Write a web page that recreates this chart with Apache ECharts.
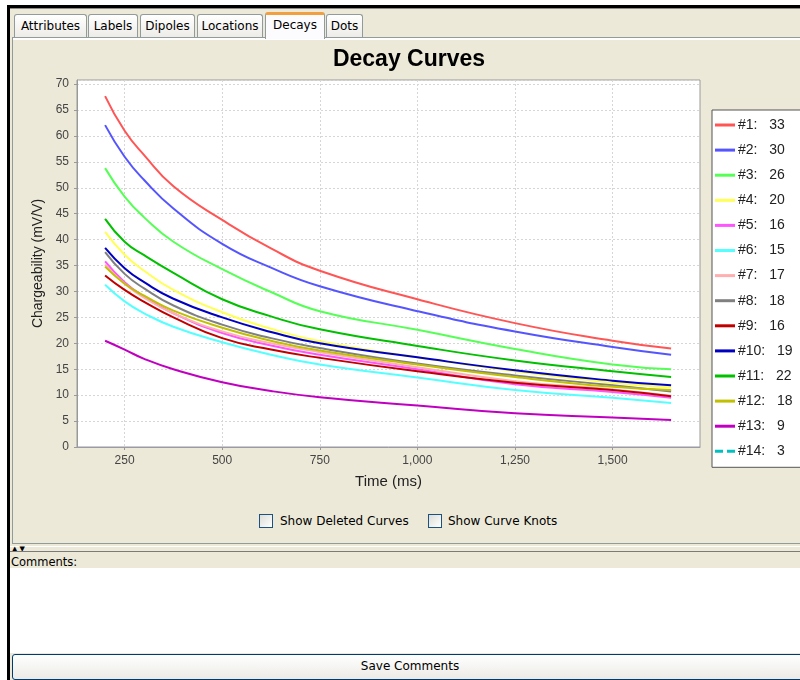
<!DOCTYPE html>
<html>
<head>
<meta charset="utf-8">
<script src="https://cdn.jsdelivr.net/npm/echarts@6/dist/echarts.min.js"></script>
<style>
html,body{margin:0;padding:0;width:800px;height:680px;overflow:hidden;background:#fff;font-family:"DejaVu Sans",sans-serif;}
.abs{position:absolute;box-sizing:border-box;}
#frame{left:7px;top:5px;width:800px;height:680px;background:#ECE9D8;border-left:3px solid #000;border-top:3px solid #000;}
.tab{top:14px;height:24px;border:1px solid #919B9C;border-bottom:none;border-radius:3px 3px 0 0;background:linear-gradient(#FFFFFF,#ECEBE6);font-size:12px;color:#000;text-align:center;line-height:22px;}
.tab.sel{top:12px;height:27px;background:#FCFCFE;border-top:3px solid #F0A040;z-index:3;line-height:21px;}
#panel{left:12px;top:37px;width:800px;height:507px;border:1px solid #919B9C;background:#ECE9D8;box-shadow:inset 0 2px 0 #fff;z-index:2;}
.cb{width:14px;height:14px;border:1px solid #1C5180;background:linear-gradient(135deg,#DCDCD7,#FFFFFF);z-index:4;}
.lbl{font-size:12px;color:#000;z-index:4;line-height:14px;white-space:nowrap;}
#chart{left:0;top:0;width:800px;height:680px;z-index:5;}
</style>
</head>
<body>
<div id="frame" class="abs"></div>
<div class="abs" style="left:10px;top:8px;width:790px;height:1px;background:#8a8a8a;"></div>
<div class="abs tab" style="left:14px;width:73px;">Attributes</div>
<div class="abs tab" style="left:88px;width:50px;">Labels</div>
<div class="abs tab" style="left:140px;width:55px;">Dipoles</div>
<div class="abs tab" style="left:197px;width:66px;">Locations</div>
<div class="abs tab sel" style="left:265px;width:60px;">Decays</div>
<div class="abs tab" style="left:326px;width:37px;">Dots</div>
<div id="panel" class="abs"></div>
<div class="abs cb" style="left:259px;top:514px;"></div>
<div class="abs lbl" style="left:280px;top:514px;">Show Deleted Curves</div>
<div class="abs cb" style="left:428px;top:514px;"></div>
<div class="abs lbl" style="left:448px;top:514px;">Show Curve Knots</div>
<div class="abs" style="left:10px;top:546px;width:790px;height:1px;background:#fff;"></div>
<div class="abs" style="left:12px;top:545px;font-size:7px;line-height:8px;color:#000;">&#9650; &#9660;</div>
<div class="abs" style="left:10px;top:551px;width:790px;height:1px;background:#7a7a7a;"></div>
<div class="abs" style="left:11px;top:555px;font-size:11.5px;line-height:14px;color:#000;">Comments:</div>
<div class="abs" style="left:10px;top:568px;width:790px;height:85px;background:#fff;"></div>
<div class="abs" style="left:12px;top:654px;width:796px;height:26px;border:1px solid #003C74;border-radius:3px;background:linear-gradient(#FFFFFF,#ECEBE6);font-size:12px;text-align:center;line-height:23px;color:#000;">Save Comments</div>
<div id="chart" class="abs"></div>
<script>
// ---- data ----
const TIMES = [200, 250, 300, 375, 500, 625, 750, 1000, 1250, 1500, 1650];
const CURVE_1  = [67.7, 61.0, 56.3, 50.3, 43.8, 38.3, 34.0, 28.5, 23.9, 20.5, 19.0];
const CURVE_2  = [62.1, 56.0, 51.5, 46.0, 39.2, 34.6, 31.0, 26.2, 22.3, 19.3, 17.8];
const CURVE_3  = [53.8, 48.3, 44.3, 39.6, 34.3, 29.9, 26.2, 22.6, 18.9, 15.9, 15.0];
const CURVE_4  = [41.5, 37.1, 34.0, 30.3, 26.0, 22.8, 20.4, 17.3, 14.6, 12.4, 11.5];
const CURVE_5  = [35.8, 31.8, 29.0, 25.8, 22.0, 19.6, 17.8, 15.0, 12.1, 10.6, 9.5];
const CURVE_6  = [31.3, 28.1, 25.8, 23.2, 20.2, 17.8, 15.9, 13.4, 11.0, 9.5, 8.5];
const CURVE_7  = [35.2, 31.5, 28.8, 25.8, 22.3, 20.0, 18.3, 15.4, 12.7, 11.1, 9.9];
const CURVE_8  = [37.6, 33.4, 30.6, 27.3, 23.6, 21.0, 19.1, 16.1, 13.8, 11.9, 10.7];
const CURVE_9  = [33.1, 30.3, 28.0, 25.0, 21.0, 18.8, 17.2, 14.6, 12.4, 11.0, 9.8];
const CURVE_10 = [38.4, 34.5, 31.8, 28.6, 25.0, 22.2, 20.0, 17.3, 14.8, 12.8, 11.9];
const CURVE_11 = [44.0, 39.6, 37.0, 33.6, 28.5, 25.2, 22.7, 19.5, 16.7, 14.6, 13.5];
const CURVE_12 = [34.8, 31.5, 29.2, 26.3, 23.0, 20.5, 18.6, 15.9, 13.5, 11.6, 11.0];
const CURVE_13 = [20.5, 18.8, 17.0, 15.0, 12.5, 10.8, 9.6, 8.0, 6.5, 5.7, 5.2];
const CURVE_14 = [];
const CURVES = [CURVE_1, CURVE_2, CURVE_3, CURVE_4, CURVE_5, CURVE_6, CURVE_7,
                CURVE_8, CURVE_9, CURVE_10, CURVE_11, CURVE_12, CURVE_13, CURVE_14];
const CURVE_NAMES = ['#1','#2','#3','#4','#5','#6','#7','#8','#9','#10','#11','#12','#13','#14'];
const LEGEND_VALUES = [33, 30, 26, 20, 16, 15, 17, 18, 16, 19, 22, 18, 9, 3];
const X_TICKS = [250, 500, 750, 1000, 1250, 1500];

// ---- styles ----
const COLORS = ['#FF5555','#5555FF','#55FF55','#FFFF55','#FF55FF','#55FFFF','#FFAFAF',
                '#808080','#C00000','#0000C0','#00C000','#C0C000','#C000C0','#00C0C0'];
const FONT = '"Liberation Sans", Arial, sans-serif';

const chart = echarts.init(document.getElementById('chart'), null, {renderer: 'canvas'});

const series = CURVES.map((vals, k) => ({
  name: CURVE_NAMES[k],
  type: 'line',
  color: COLORS[k],
  data: vals.map((v, i) => [TIMES[i], v]),
  showSymbol: false,
  smooth: 0.5,
  lineStyle: {width: 2, color: COLORS[k], type: k === 13 ? 'dashed' : 'solid'},
  itemStyle: {color: COLORS[k]},
  emphasis: {disabled: true},
  animation: false
}));

const legendData = CURVE_NAMES.map((n, k) => k === 13
  ? {name: n, icon: 'path://M0,0h8v3h-8zM12,0h8v3h-8z'}
  : {name: n, icon: 'rect'});

chart.setOption({
  backgroundColor: 'transparent',
  animation: false,
  title: {
    text: 'Decay Curves',
    left: 404, top: 43, textAlign: 'center',
    textStyle: {fontFamily: FONT, fontSize: 23, fontWeight: 'bold', color: '#000'}
  },
  grid: {
    left: 77, right: 100, top: 80, bottom: 233,
    show: true, backgroundColor: '#fff', borderColor: '#9a9a9a', borderWidth: 1
  },
  legend: {
    orient: 'vertical',
    left: 712, top: 110,
    padding: [8, 30, 9, 3],
    itemGap: 11.1,
    itemWidth: 20, itemHeight: 3,
    backgroundColor: '#fff',
    borderColor: '#555', borderWidth: 1,
    data: legendData,
    selectedMode: false,
    formatter: name => name + ':   ' + LEGEND_VALUES[CURVE_NAMES.indexOf(name)],
    textStyle: {fontFamily: FONT, fontSize: 14, color: '#222', lineHeight: 14, padding: [0,0,0,-2]}
  },
  xAxis: {
    type: 'value',
    min: 128, max: 1724,
    name: 'Time (ms)', nameLocation: 'middle', nameGap: 27,
    nameTextStyle: {fontFamily: FONT, fontSize: 15, color: '#222'},
    axisLine: {show: true, lineStyle: {color: '#9a9aa8', width: 1}},
    axisTick: {show: true, length: 3, customValues: X_TICKS, lineStyle: {color: '#999'}},
    axisLabel: {
      customValues: X_TICKS, margin: 8,
      fontFamily: FONT, fontSize: 12, color: '#444',
      formatter: v => v.toLocaleString('en-US')
    },
    splitLine: {show: true, lineStyle: {color: '#d6d6d6', type: [2, 2], width: 1}}
  },
  yAxis: {
    type: 'value',
    min: 0, max: 70.8, interval: 5,
    name: 'Chargeability (mV/V)', nameLocation: 'middle', nameGap: 27, nameRotate: 90,
    nameTextStyle: {fontFamily: FONT, fontSize: 14, color: '#222'},
    axisLine: {show: true, lineStyle: {color: '#999', width: 1}},
    axisTick: {show: true, length: 3, lineStyle: {color: '#999'}},
    axisLabel: {margin: 8, fontFamily: FONT, fontSize: 12, color: '#444', showMaxLabel: false},
    splitLine: {show: true, lineStyle: {color: '#d6d6d6', type: [2, 2], width: 1}}
  },
  series: series
});
</script>
</body>
</html>
